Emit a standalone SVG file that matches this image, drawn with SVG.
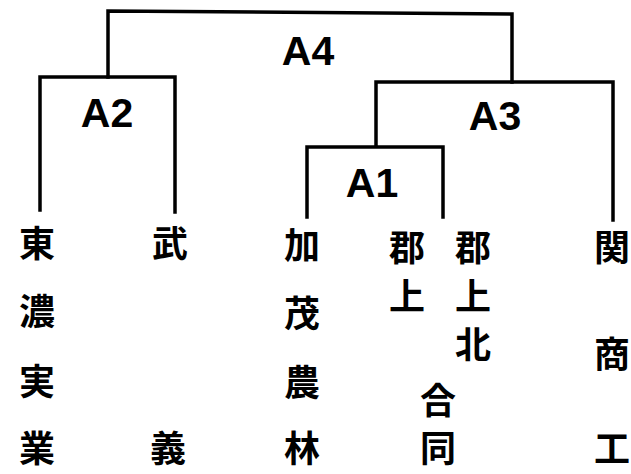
<svg xmlns="http://www.w3.org/2000/svg" width="631" height="474" viewBox="0 0 631 474">
<style>
.ln{fill:none;stroke:#000;stroke-width:3.5;stroke-linecap:square;stroke-linejoin:miter}
.lb{font-family:"Liberation Sans",Arial,sans-serif;font-weight:bold;font-size:41px;fill:#000;text-anchor:middle}
.ch{font-family:"Noto Sans CJK JP",sans-serif;font-weight:bold;font-size:36px;fill:#000;text-anchor:middle;dominant-baseline:central}
</style>
<rect width="631" height="474" fill="#fff"/>
<g id="connectors">
<polyline class="ln" points="40,210 40,77 175,77 175,212"/>
<polyline class="ln" points="307,217 307,147 443,147 443,217"/>
<polyline class="ln" points="376,146 376,82 613,82 613,220"/>
<polyline class="ln" points="108,77 108,11 512,14 512,82"/>
</g>
<g id="A4"><text class="lb" x="308" y="65">A4</text></g>
<g id="A2"><text class="lb" x="107" y="127">A2</text></g>
<g id="A3"><text class="lb" x="495" y="130">A3</text></g>
<g id="A1"><text class="lb" x="372" y="197">A1</text></g>
<g id="tono">
<text class="ch" x="37" y="241">東</text>
<text class="ch" x="37" y="309">濃</text>
<text class="ch" x="37" y="379">実</text>
<text class="ch" x="37" y="446">業</text>
</g>
<g id="mugi">
<text class="ch" x="170" y="241">武</text>
<text class="ch" x="168" y="446">義</text>
</g>
<g id="kamo">
<text class="ch" x="302" y="243">加</text>
<text class="ch" x="302" y="311">茂</text>
<text class="ch" x="302" y="380">農</text>
<text class="ch" x="302" y="446">林</text>
</g>
<g id="gujo">
<text class="ch" x="407" y="245">郡</text>
<text class="ch" x="407" y="294">上</text>
</g>
<g id="gujohoku">
<text class="ch" x="473" y="245">郡</text>
<text class="ch" x="473" y="294">上</text>
<text class="ch" x="473" y="342">北</text>
</g>
<g id="godo">
<text class="ch" x="438" y="398">合</text>
<text class="ch" x="438" y="446">同</text>
</g>
<g id="sekishoko">
<text class="ch" x="612" y="245">関</text>
<text class="ch" x="612" y="352">商</text>
<text class="ch" x="612" y="446">工</text>
</g>
</svg>
